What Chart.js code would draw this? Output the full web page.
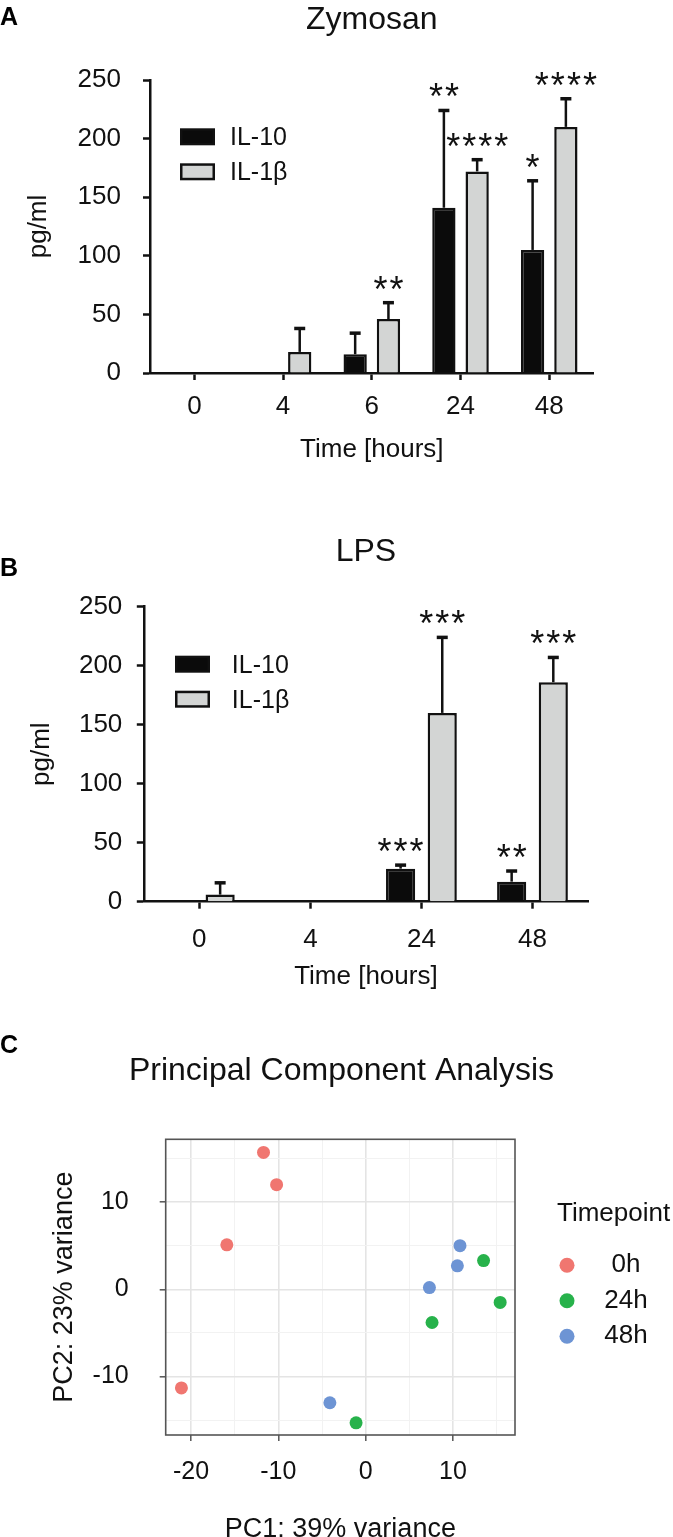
<!DOCTYPE html>
<html>
<head>
<meta charset="utf-8">
<script src="https://cdn.jsdelivr.net/npm/chart.js@4.4.1/dist/chart.umd.min.js"></script>
<style>
  html, body { margin: 0; padding: 0; background: #fff; }
  body { width: 673px; height: 1537px; position: relative; overflow: hidden; font-family: "Liberation Sans", Arial, sans-serif; }
  canvas { position: absolute; left: 0; }
  .tag { position: absolute; left: 0; font-weight: bold; font-size: 25px; line-height: 25px; color: #000; }
</style>
</head>
<body>
<canvas id="chartA" style="top:0" width="673" height="480"></canvas>
<canvas id="chartB" style="top:480px" width="673" height="520"></canvas>
<canvas id="chartC" style="top:1000px" width="673" height="560"></canvas>
<div class="tag" style="top:4px">A</div>
<div class="tag" style="top:555px">B</div>
<div class="tag" style="top:1032px">C</div>
<script>
// --- A: Zymosan ---
const hoursA = ['0', '4', '6', '24', '48'];
const il10A = [0, 0, 16, 141, 105];
const il10A_sd = [0, 0, 18, 83, 59];
const il1bA = [0, 18, 46, 172, 210];
const il1bA_sd = [0, 20, 14, 10, 24];
const il10A_sig = ['', '', '', '**', '*'];
const il1bA_sig = ['', '', '**', '****', '****'];

// --- B: LPS ---
const hoursB = ['0', '4', '24', '48'];
const il10B = [0, 0, 28, 17];
const il10B_sd = [0, 0, 3, 9];
const il1bB = [6, 0, 160, 186];
const il1bB_sd = [10, 0, 64, 21];
const il10B_sig = ['', '', '***', '**'];
const il1bB_sig = ['', '', '***', '***'];

// --- C: PCA ---
const pc1_0h = [-11.7, -10.2, -15.9, -21.1];
const pc2_0h = [15.7, 12.0, 5.1, -11.3];
const pc1_24h = [13.5, 15.4, 7.6, -1.1];
const pc2_24h = [3.3, -1.5, -3.8, -15.3];
const pc1_48h = [10.8, 10.5, 7.3, -4.1];
const pc2_48h = [5.0, 2.7, 0.2, -13.0];
const pc1Ticks = [-20, -15, -10, -5, 0, 5, 10, 15];
const pc2Ticks = [-15, -10, -5, 0, 5, 10, 15];

const FONT = '"Liberation Sans", Arial, sans-serif';
const INK = '#111';
Chart.defaults.font.family = FONT;
Chart.defaults.color = INK;

// error bars (upper only) + significance stars
const errorBars = {
  id: 'errorBars',
  afterDatasetsDraw(chart) {
    const ctx = chart.ctx;
    const y = chart.scales.y;
    ctx.save();
    ctx.strokeStyle = INK;
    ctx.fillStyle = INK;
    chart.data.datasets.forEach((ds, i) => {
      chart.getDatasetMeta(i).data.forEach((bar, j) => {
        const sd = ds.sd[j];
        let top = bar.y;
        if (sd) {
          top = y.getPixelForValue(ds.data[j] + sd);
          ctx.lineWidth = 2.5;
          ctx.beginPath(); ctx.moveTo(bar.x, bar.y); ctx.lineTo(bar.x, top); ctx.stroke();
          ctx.lineWidth = 3.5;
          ctx.beginPath(); ctx.moveTo(bar.x - 5.5, top); ctx.lineTo(bar.x + 5.5, top); ctx.stroke();
        }
        if (ds.sig[j]) {
          ctx.font = '36px ' + FONT;
          ctx.letterSpacing = '2px';
          ctx.textAlign = 'center';
          ctx.textBaseline = 'alphabetic';
          ctx.fillText(ds.sig[j], bar.x + 1, top - 1);
        }
      });
    });
    ctx.restore();
  }
};

// legend drawn inside the plot area
const boxLegend = {
  id: 'boxLegend',
  afterDraw(chart, args, o) {
    const { ctx, chartArea } = chart;
    ctx.save();
    ctx.font = '25px ' + FONT;
    ctx.textBaseline = 'middle';
    ctx.textAlign = 'left';
    chart.data.datasets.forEach((ds, i) => {
      const x = chartArea.left + o.x;
      const yy = chartArea.top + o.y + i * o.gap;
      ctx.fillStyle = ds.backgroundColor;
      ctx.fillRect(x + 1.25, yy + 1.25, 32.5, 14.5);
      ctx.lineWidth = 2.5;
      ctx.strokeStyle = INK;
      ctx.strokeRect(x + 1.25, yy + 1.25, 32.5, 14.5);
      ctx.fillStyle = INK;
      ctx.fillText(ds.label, chartArea.left + o.textX, yy + 10);
    });
    ctx.restore();
  }
};

function barChart(id, labels, sets, lay) {
  return new Chart(document.getElementById(id), {
    type: 'bar',
    data: {
      labels: labels,
      datasets: sets.map(s => ({
        label: s.label,
        data: s.data,
        sd: s.sd,
        sig: s.sig,
        backgroundColor: s.color,
        borderColor: INK,
        borderWidth: 2.5,
        categoryPercentage: 0.75,
        barPercentage: 0.7
      }))
    },
    options: {
      responsive: false,
      animation: false,
      events: [],
      devicePixelRatio: 1,
      layout: { padding: { left: 0, right: lay.right, top: 0, bottom: 0 } },
      plugins: {
        legend: { display: false },
        tooltip: { enabled: false },
        title: {
          display: true, text: lay.title, fullSize: false,
          font: { size: 32, weight: 'normal' }, color: INK,
          padding: { top: lay.titleTop, bottom: lay.titleBottom }
        },
        boxLegend: lay.legend
      },
      scales: {
        x: {
          grid: { offset: false, drawOnChartArea: false, tickLength: 7, tickWidth: 2.5, tickColor: INK },
          border: { color: INK, width: 2.5 },
          ticks: { font: { size: 26 }, color: INK, padding: lay.xPad, maxRotation: 0 },
          title: { display: true, text: 'Time [hours]', font: { size: 26 }, color: INK, padding: { top: 0, bottom: lay.xTitleBottom } },
          afterFit: s => { s.height = lay.xHeight; }
        },
        y: {
          min: 0, max: 250,
          grid: { drawOnChartArea: false, tickLength: 7, tickWidth: 2.5, tickColor: INK },
          border: { color: INK, width: 2.5 },
          ticks: { stepSize: 50, font: { size: 26 }, color: INK, padding: lay.yPad },
          title: { display: true, text: 'pg/ml', font: { size: 26 }, color: INK, padding: { top: lay.yTitleTop, bottom: 0 } },
          afterFit: s => { s.width = lay.yWidth; }
        }
      }
    },
    plugins: [errorBars, boxLegend]
  });
}

barChart('chartA', hoursA, [
  { label: 'IL-10', data: il10A, sd: il10A_sd, sig: il10A_sig, color: '#0b0b0b' },
  { label: 'IL-1β', data: il1bA, sd: il1bA_sd, sig: il1bA_sig, color: '#d3d5d4' }
], {
  title: 'Zymosan', right: 79.4, titleTop: 0.8, titleBottom: 40.8,
  xHeight: 107, xPad: 11.5, xTitleBottom: 14.4,
  yWidth: 150, yPad: 22, yTitleTop: 23,
  legend: { x: 30, y: 48.3, gap: 35, textX: 80 }
});

barChart('chartB', hoursB, [
  { label: 'IL-10', data: il10B, sd: il10B_sd, sig: il10B_sig, color: '#0b0b0b' },
  { label: 'IL-1β', data: il1bB, sd: il1bB_sd, sig: il1bB_sig, color: '#d3d5d4' }
], {
  title: 'LPS', right: 85, titleTop: 52.5, titleBottom: 35.8,
  xHeight: 98.3, xPad: 15.5, xTitleBottom: 7.7,
  yWidth: 143.8, yPad: 14.5, yTitleTop: 26.4,
  legend: { x: 31.2, y: 49, gap: 35, textX: 88 }
});

// --- PCA scatter ---
const pcaLegend = {
  id: 'pcaLegend',
  afterDraw(chart, args, o) {
    const { ctx, chartArea } = chart;
    const x0 = chartArea.right;
    ctx.save();
    ctx.font = '26px ' + FONT;
    ctx.textBaseline = 'middle';
    ctx.textAlign = 'left';
    ctx.fillStyle = INK;
    ctx.fillText(o.title, x0 + 42, chartArea.top + 75);
    chart.data.datasets.forEach((ds, i) => {
      const yy = chartArea.top + 126 + i * 35.5;
      ctx.fillStyle = ds.backgroundColor;
      ctx.beginPath(); ctx.arc(x0 + 52, yy, 7.5, 0, Math.PI * 2); ctx.fill();
      ctx.fillStyle = INK;
      ctx.textAlign = 'center';
      ctx.fillText(ds.label, x0 + 111, yy);
    });
    ctx.restore();
  }
};

const panelFrame = {
  id: 'panelFrame',
  afterDatasetsDraw(chart) {
    const { ctx, chartArea: a } = chart;
    ctx.save();
    ctx.strokeStyle = '#555';
    ctx.lineWidth = 1.6;
    ctx.strokeRect(a.left, a.top, a.right - a.left, a.bottom - a.top);
    ctx.restore();
  }
};

const pts = (xs, ys) => xs.map((v, i) => ({ x: v, y: ys[i] }));
const isMajor = c => c.tick && c.tick.value % 10 === 0;
const pcaGrid = {
  color: c => isMajor(c) ? '#e4e4e4' : '#f2f2f2',
  lineWidth: c => isMajor(c) ? 1.6 : 1,
  tickLength: 6,
  tickWidth: 1.5,
  tickColor: c => isMajor(c) ? '#555' : 'rgba(0,0,0,0)'
};
const pcaTickLabel = v => (v % 10 === 0 ? String(v) : '');

new Chart(document.getElementById('chartC'), {
  type: 'scatter',
  data: {
    datasets: [
      { label: '0h', data: pts(pc1_0h, pc2_0h), backgroundColor: '#f07670' },
      { label: '24h', data: pts(pc1_24h, pc2_24h), backgroundColor: '#27b24b' },
      { label: '48h', data: pts(pc1_48h, pc2_48h), backgroundColor: '#6d94d4' }
    ].map(d => Object.assign(d, { pointRadius: 6.5, borderWidth: 0 }))
  },
  options: {
    responsive: false,
    animation: false,
    events: [],
    devicePixelRatio: 1,
    layout: { padding: { left: 10, right: 0, top: 0, bottom: 0 } },
    plugins: {
      legend: { display: false },
      tooltip: { enabled: false },
      title: {
        display: true, text: 'Principal Component Analysis',
        font: { size: 32, weight: 'normal' }, color: INK,
        padding: { top: 51.8, bottom: 49.1 }
      },
      pcaLegend: { title: 'Timepoint' }
    },
    scales: {
      x: {
        type: 'linear', min: -22.9, max: 17.1,
        afterBuildTicks: s => { s.ticks = pc1Ticks.map(v => ({ value: v })); },
        grid: pcaGrid,
        border: { display: false },
        ticks: { callback: pcaTickLabel, font: { size: 25 }, color: INK, padding: 16, autoSkip: false, maxRotation: 0 },
        title: { display: true, text: 'PC1: 39% variance', font: { size: 27 }, color: INK, padding: { top: 0, bottom: 13.8 } },
        afterFit: s => { s.height = 125; }
      },
      y: {
        type: 'linear', min: -16.7, max: 17.2,
        afterBuildTicks: s => { s.ticks = pc2Ticks.map(v => ({ value: v })); },
        grid: pcaGrid,
        border: { display: false },
        ticks: { callback: pcaTickLabel, font: { size: 25 }, color: INK, padding: 31, autoSkip: false },
        title: { display: true, text: 'PC2: 23% variance', font: { size: 27 }, color: INK, padding: { top: 38.8, bottom: 0 } },
        afterFit: s => { s.width = 155.7; }
      },
      // empty right-hand axis that reserves the legend strip
      legendSpace: {
        type: 'linear', position: 'right', display: true,
        grid: { display: false }, border: { display: false }, ticks: { display: false },
        afterFit: s => { s.width = 158; }
      }
    }
  },
  plugins: [panelFrame, pcaLegend]
});
</script>
</body>
</html>
